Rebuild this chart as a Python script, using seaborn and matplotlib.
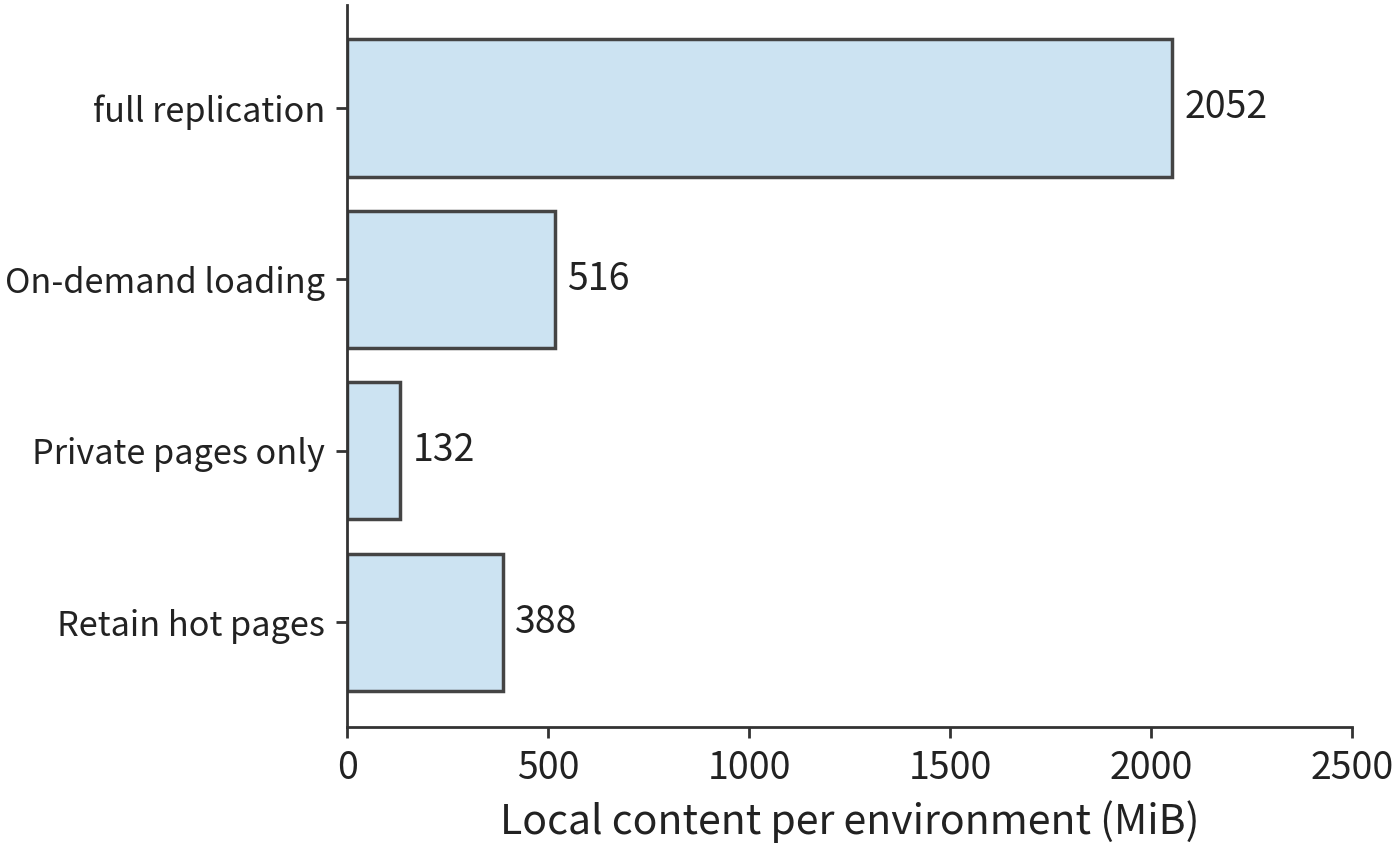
import matplotlib
matplotlib.use("Agg")
import matplotlib.pyplot as plt
import seaborn as sns
import pandas as pd

categories = ["full replication", "On-demand loading", "Private pages only", "Retain hot pages"]
values = [2052, 516, 132, 388]
xticks = [0, 500, 1000, 1500, 2000, 2500]
xlabel = "Local content per environment (MiB)"

sns.set_theme(style="ticks")
plt.rcParams['font.family'] = ['Noto Sans CJK SC', 'DejaVu Sans']

df = pd.DataFrame({"category": categories, "value": values})

fig = plt.figure(figsize=(14, 8.5), dpi=100)
ax = fig.add_axes([0.248, 0.145, 0.718, 0.849])

sns.barplot(data=df, x="value", y="category", ax=ax, color="#cce3f2",
            saturation=1, width=0.8, edgecolor="#444444", linewidth=2.5)

for i, v in enumerate(values):
    ax.text(v + 30, i, f"{v}", va="center", ha="left", fontsize=27, color="#222222")

ax.set_xlim(0, 2500)
ax.set_ylim(3.61, -0.6)
ax.set_xticks(xticks)
ax.set_xticklabels([str(t) for t in xticks])
ax.set_xlabel(xlabel, fontsize=29.5, color="#222222", labelpad=9)
ax.set_ylabel("")
ax.tick_params(axis="both", colors="#333333", labelcolor="#222222",
               length=8, width=2, pad=8)
ax.tick_params(axis="x", labelsize=27)
ax.tick_params(axis="y", labelsize=24.7)
for s in ["top", "right"]:
    ax.spines[s].set_visible(False)
for s in ["left", "bottom"]:
    ax.spines[s].set_color("#333333")
    ax.spines[s].set_linewidth(2)

fig.savefig("out.png", dpi=100)
